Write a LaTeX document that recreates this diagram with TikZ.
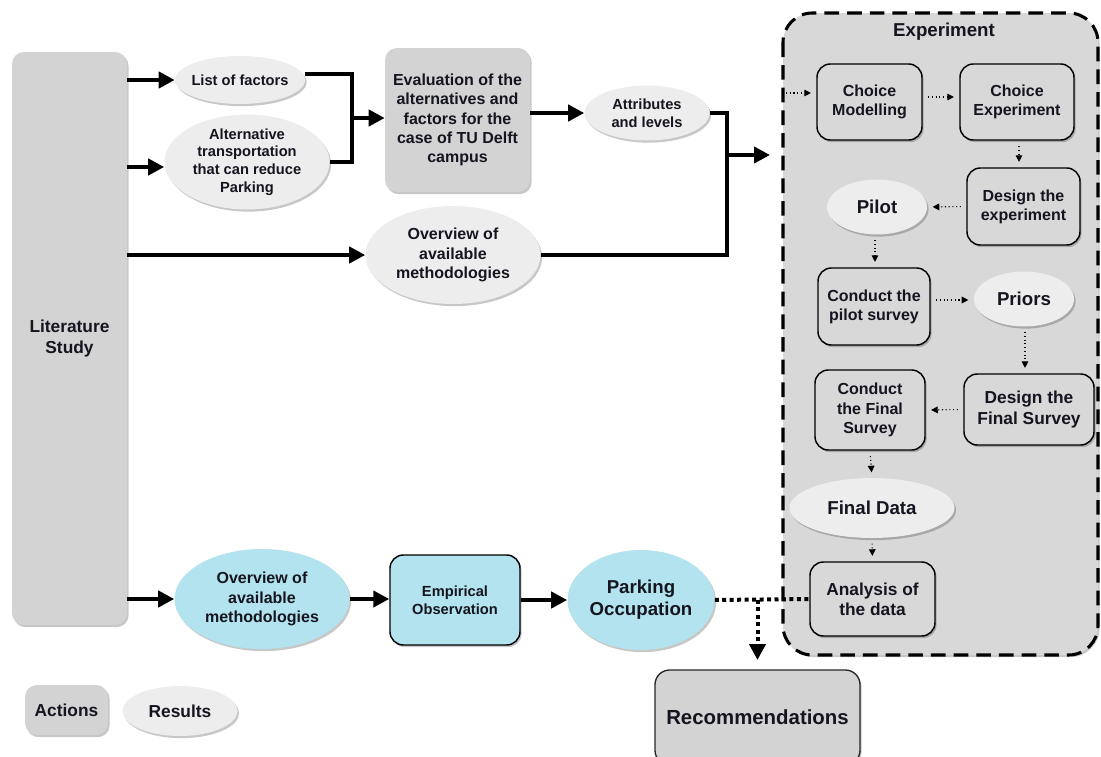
\documentclass[tikz,border=0pt]{standalone}
\usepackage{fontspec}
\setmainfont{Liberation Sans}
\usetikzlibrary{shapes.geometric,arrows.meta,shadows}

\definecolor{actgray}{HTML}{D3D3D3}
\definecolor{resgray}{HTML}{EDEDED}
\definecolor{expgray}{HTML}{D8D8D8}
\definecolor{skyfill}{HTML}{B2E3EE}
\definecolor{inkcol}{HTML}{15151F}

\tikzset{
  f11/.style={font=\fontsize{11pt}{13.2pt}\selectfont\bfseries},
  f12/.style={font=\fontsize{12pt}{14.4pt}\selectfont\bfseries},
  f13/.style={font=\fontsize{13pt}{15.2pt}\selectfont\bfseries},
  f14/.style={font=\fontsize{14pt}{16.4pt}\selectfont\bfseries},
  f15/.style={font=\fontsize{15.3pt}{18pt}\selectfont\bfseries},
  softshadow/.style={drop shadow={shadow xshift=1.2pt,shadow yshift=-1.6pt,opacity=0.22,fill=black}},
  action/.style={rectangle,rounded corners=9pt,fill=actgray,inner sep=0pt,
    align=center,text=inkcol,softshadow},
  result/.style={ellipse,fill=resgray,inner sep=-10pt,align=center,text=inkcol,softshadow},
  stepbox/.style={rectangle,rounded corners=10pt,fill=expgray,draw=black,line width=1.1pt,
    inner sep=0pt,align=center,text=inkcol,softshadow},
  skyres/.style={ellipse,fill=skyfill,inner sep=-10pt,align=center,text=inkcol,softshadow},
  skybox/.style={rectangle,rounded corners=10pt,fill=skyfill,draw=black,line width=1.1pt,
    inner sep=0pt,align=center,text=inkcol,softshadow},
  flow/.style={line width=3pt,-{Triangle[length=12pt,width=12pt]}},
  joint/.style={line width=3pt},
  dotflow/.style={line width=0.8pt,dotted,-{Triangle[length=5pt,width=5pt]},
    shorten <=4pt,shorten >=4pt},
  heavydots/.style={line width=3pt,dash pattern=on 3pt off 2.6pt},
}

\begin{document}
\begin{tikzpicture}[x=0.75pt,y=-0.75pt]
\useasboundingbox (0,0) rectangle (1101,757);

% experiment container
\path[fill=expgray,draw=black,line width=2.3pt,dash pattern=on 11pt off 6pt,
  rounded corners=22pt,softshadow] (783,13) rectangle (1098,655);
\node[f14,text=inkcol] (exptitle) at (944,32) {Experiment};

% left column
\node[action,f13,minimum width=86.25pt,minimum height=429.75pt] (lit) at (69.5,338.5)
  {Literature\\Study};

% upper branch
\node[result,f11,minimum width=97.5pt,minimum height=36pt] (lf) at (240,80) {List of factors};
\node[result,f11,minimum width=123.75pt,minimum height=71.25pt] (alt) at (247,162)
  {Alternative\\transportation\\that can reduce\\Parking};
\node[action,f12,minimum width=108.75pt,minimum height=108pt] (eval) at (457.5,120)
  {Evaluation of the\\alternatives and\\factors for the\\case of TU Delft\\campus};
\node[result,f11,minimum width=93.75pt,minimum height=41.25pt] (attr) at (647,113)
  {Attributes\\and levels};
\node[result,f12,minimum width=131.25pt,minimum height=73.5pt] (ov1) at (453,255)
  {Overview of\\available\\methodologies};

% steps inside the experiment
\node[stepbox,f12,minimum width=78.75pt,minimum height=57pt] (cm) at (869.5,102)
  {Choice\\Modelling};
\node[stepbox,f12,minimum width=85.5pt,minimum height=57pt] (ce) at (1017,102)
  {Choice\\Experiment};
\node[stepbox,f12,minimum width=84.75pt,minimum height=57.75pt] (de) at (1023.5,206.5)
  {Design the\\experiment};
\node[result,f14,minimum width=75pt,minimum height=41.25pt] (pilot) at (877,207) {Pilot};
\node[stepbox,f12,minimum width=84pt,minimum height=57.75pt] (cps) at (874,306.5)
  {Conduct the\\pilot survey};
\node[result,f14,minimum width=75pt,minimum height=41.25pt] (priors) at (1024,299) {Priors};
\node[stepbox,f13,minimum width=97.5pt,minimum height=53.25pt] (dfs) at (1029,409.5)
  {Design the\\Final Survey};
\node[stepbox,f12,minimum width=82.5pt,minimum height=60pt] (cfs) at (870,410)
  {Conduct\\the Final\\Survey};
\node[result,f14,minimum width=123.75pt,minimum height=45pt] (fd) at (872,508) {Final Data};
\node[stepbox,f13,minimum width=93.75pt,minimum height=55.5pt] (ad) at (872.5,599)
  {Analysis of\\the data};

% lower branch
\node[skyres,f12,minimum width=131.25pt,minimum height=75pt] (ov2) at (262,599)
  {Overview of\\available\\methodologies};
\node[skybox,f11,minimum width=97.5pt,minimum height=67.5pt] (emp) at (455,600)
  {Empirical\\Observation};
\node[skyres,f14,minimum width=110.25pt,minimum height=75pt] (po) at (641,600)
  {Parking\\Occupation};
\node[action,f15,draw=black!85,line width=1pt,rounded corners=11pt,
  minimum width=153.75pt,minimum height=71.25pt] (rec) at (757.5,717.5) {Recommendations};

% legend
\node[action,f13,minimum width=62.25pt,minimum height=37.5pt] (legact) at (66.5,710) {Actions};
\node[result,f13,minimum width=86.25pt,minimum height=37.5pt] (legres) at (180,711) {Results};

% junction points of the merging connectors
\coordinate (j1) at (352,118);
\coordinate (j2) at (727,155);
\coordinate (expin) at (770,155);
\coordinate (dotin) at (786,93);

% solid connectors
\draw[flow] (lit.east |- lf) -- (lf.west);
\draw[flow] (lit.east |- 0,167) -- (alt.west |- 0,167);
\draw[flow] (lit.east |- ov1) -- (ov1.west);
\draw[joint] (lf.east |- 0,74) -| (j1) |- (alt.east);
\draw[flow] (j1) -- (eval.west |- j1);
\draw[flow] (eval.east |- attr) -- (attr.west);
\draw[joint] (attr.east) -| (j2) |- (ov1.east);
\draw[flow] (j2) -- (expin);
\draw[flow] (lit.east |- ov2) -- (ov2.west);
\draw[flow] (ov2.east) -- (emp.west |- ov2.east);
\draw[flow] (emp.east) -- (po.west);

% dotted connectors inside the experiment
\draw[dotflow,shorten <=0pt] (dotin) -- (cm.west |- dotin);
\draw[dotflow] (cm.east |- 0,97) -- (ce.west |- 0,97);
\draw[dotflow] (ce.south -| 1019,0) -- (de.north -| 1019,0);
\draw[dotflow] (de.west) -- (pilot.east);
\draw[dotflow] (pilot.south -| 875,0) -- (cps.north -| 875,0);
\draw[dotflow] (cps.east |- 0,300) -- (priors.west |- 0,300);
\draw[dotflow] (priors.south -| 1025,0) -- (dfs.north -| 1025,0);
\draw[dotflow] (dfs.west) -- (cfs.east);
\draw[dotflow] (cfs.south) -- (fd.north);
\draw[dotflow] (fd.south) -- (ad.north);

% results feeding the recommendations
\draw[heavydots] (po.east) -- (ad.west);
\draw[heavydots,-{Triangle[length=12pt,width=12pt]},shorten >=7pt]
  (po.east -| rec.north) -- (rec.north);
\end{tikzpicture}
\end{document}
